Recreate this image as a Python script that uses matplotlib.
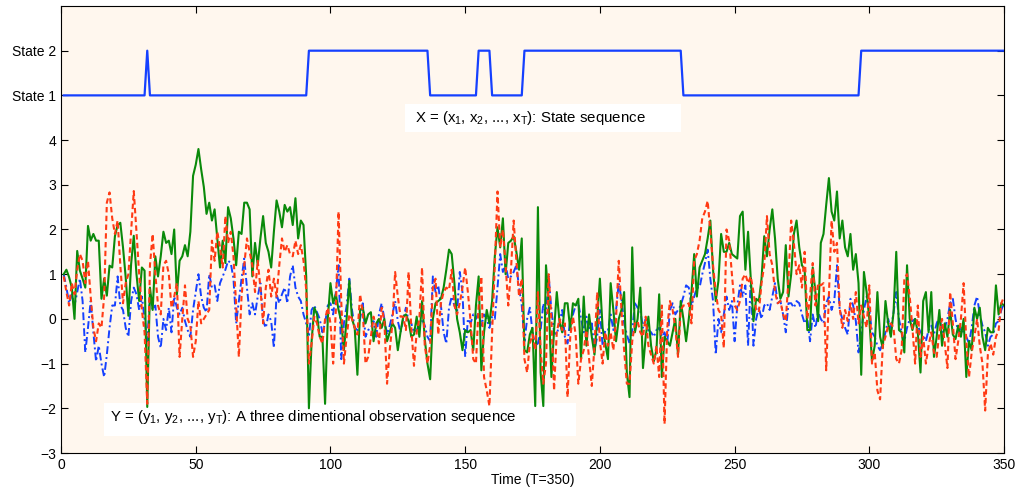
import numpy as np
import matplotlib
matplotlib.use('Agg')
import matplotlib.pyplot as plt
from matplotlib.patches import Rectangle

plt.rcParams['font.family'] = ['Liberation Sans', 'DejaVu Sans']
plt.rcParams['mathtext.default'] = 'regular'

# Hidden state sequence: state value and the time step where each run begins
state_starts = [1, 32, 33, 92, 137, 155, 160, 172, 231, 297]
state_values = [1, 2, 1, 2, 1, 2, 1, 2, 1, 2]
T = 350

# Three-dimensional observations y_t (one list per dimension)
obs_blue = [
    1.0, 0.7, 0.35, 0.55, 0.3, 0.6, 0.9, 0.4, -0.75, -0.2,
    0.4, -0.3, -0.95, -0.6, -1.0, -1.3, -0.8, -0.2, 0.3, 0.3,
    0.95, 0.3, 0.2, -0.2, -0.4, 0.4, 0.7, 0.55, 0.2, 0.5,
    0.0, -0.5, 0.5, 0.2, 0.3, -0.4, -0.65, 0.0, -0.25, 0.25,
    -0.3, 0.5, 0.25, 0.1, 0.25, -0.05, -0.25, -0.4, 0.2, 0.6,
    1.0, 0.5, 0.25, 0.15, 1.0, 0.7, 0.75, 0.4, 0.8, 0.95,
    1.1, 1.3, 1.25, 0.9, -0.1, 0.4, 0.9, 1.35, 0.7, 0.1,
    0.35, 0.1, 0.5, 0.8, -0.05, -0.2, 0.1, -0.05, -0.65, 0.55,
    0.35, 0.55, 0.7, 0.35, 0.95, 1.2, 0.7, 0.5, 0.4, 0.1,
    -0.1, -0.4, 0.2, 0.3, 0.15, 0.0, -0.3, -0.1, 0.3, 0.35,
    0.1, 0.6, 1.2, -0.9, -0.1, 0.3, 0.9, 0.2, -0.2, -0.25,
    0.0, 0.35, -0.4, -0.25, -0.2, -0.05, -0.4, 0.1, 0.35, 0.0,
    -0.35, -0.15, 0.1, 0.4, -0.05, -0.3, 0.0, 0.25, -0.05, -0.1,
    -0.3, -0.25, -0.1, 0.0, -0.15, -0.4, -0.5, 0.95, 0.6, 0.75,
    0.3, -0.3, -0.55, 0.25, 0.5, 0.3, 0.15, 1.05, 0.6, -0.85,
    0.0, -0.1, 0.1, 0.0, 0.15, -0.15, 0.1, 0.0, -0.2, 0.05,
    0.0, 0.7, 1.45, 1.05, 1.2, 0.9, 0.95, 1.05, 1.2, 0.7,
    0.3, -0.5, 0.0, 0.25, -0.3, -0.6, -0.55, -0.25, 0.35, 0.1,
    0.95, 0.2, -0.3, -0.35, -0.1, 0.2, -0.4, -0.55, 0.0, 0.1,
    0.3, 0.35, 0.0, -0.3, 0.05, -0.25, -0.1, -0.7, -0.4, 0.2,
    -0.6, -0.25, -0.25, 0.1, -0.25, 0.2, 0.8, 0.45, -0.1, -0.35,
    -0.55, -0.25, 0.35, 0.25, 0.2, -0.2, 0.0, -0.25, -0.3, -0.4,
    -0.25, -0.2, -0.4, -0.3, -0.55, 0.2, 0.35, 0.1, 0.2, 0.3,
    0.5, 0.75, 0.7, 0.3, 0.5, 0.7, 0.7, 1.0, 1.25, 1.55,
    0.9, 0.4, -0.8, 0.0, -0.3, 0.1, 0.5, 0.2, 0.4, -0.5,
    0.3, 0.75, 0.5, 0.75, -0.6, 0.9, -0.6, 0.0, 0.25, 0.0,
    0.3, 0.35, 0.2, 0.5, 0.8, 0.35, 0.4, 0.1, -0.3, 0.35,
    0.35, 0.25, 0.4, 0.35, 0.1, -0.1, 0.0, -0.5, 0.1, -0.2,
    0.15, 0.0, -0.1, 0.35, 0.5, 0.2, 0.4, 1.2, 0.2, 0.0,
    -0.2, -0.35, 0.45, 0.3, -0.05, -0.75, -0.3, 0.2, 0.5, 0.2,
    -0.3, -0.4, -0.6, -0.7, -0.55, -0.3, 0.0, -0.25, 0.15, 0.6,
    0.0, -0.3, -0.5, -0.2, 0.0, -0.05, 0.0, -0.15, -0.3, -0.35,
    -0.5, -0.25, -0.15, -0.35, -0.1, 0.05, -0.3, -0.2, 0.0, 0.35,
    0.45, 0.0, -0.3, -0.2, -0.3, -0.4, -0.55, -0.2, 0.3, 0.5,
    0.1, -0.15, -0.3, -0.6, -0.4, -0.35, -0.1, -0.05, 0.2, 0.35,
]

obs_green = [
    1.0, 1.1, 0.93, 0.7, 0.0, 1.52, 1.08, 0.9, 0.7, 2.08,
    1.75, 1.9, 1.75, 1.75, 0.45, 0.9, 0.52, 1.19, 1.15, 1.85,
    2.1, 2.15, 1.6, 0.93, 0.07, 1.22, 1.86, 1.0, 0.4, 1.15,
    1.08, -1.97, 0.7, 0.2, 1.4, 0.95, 1.4, 1.95, 1.7, 1.75,
    1.45, 2.0, 0.55, 1.3, 1.4, 1.65, 1.4, 1.95, 3.2, 3.45,
    3.8, 3.35, 2.95, 2.35, 2.6, 2.2, 2.45, 1.8, 1.15, 1.75,
    1.25, 2.5, 2.25, 1.8, 1.2, 1.95, 1.9, 2.6, 2.6, 2.45,
    0.95, 1.7, 1.2, 1.8, 2.3, 1.7, 1.5, 1.15, 1.95, 2.65,
    2.4, 2.05, 2.55, 2.4, 2.5, 2.1, 2.7, 1.8, 2.2, 2.1,
    0.95, -2.0, -0.5, 0.25, 0.1, -0.4, -0.4, -1.9, 0.0, 0.8,
    0.35, 0.55, 0.2, -0.05, -0.7, 0.0, 0.85, 0.0, -0.2, -1.25,
    0.2, 0.25, -0.1, 0.1, 0.15, -0.5, -0.1, 0.0, -0.2, 0.0,
    -0.5, -0.3, -0.1, -0.2, -0.7, -0.3, 0.05, 0.1, -0.05, -0.4,
    -0.35, 0.05, -0.4, 0.4, -0.45, -1.0, -1.35, 0.0, 0.35, 0.4,
    0.45, 0.7, 1.1, 1.55, 1.45, 0.8, 0.0, -0.3, -0.7, -0.25,
    -0.3, -0.25, -0.7, 0.3, 0.95, -1.15, -0.3, 0.2, -0.1, 0.4,
    1.4, 2.05, 1.6, 2.25, 1.0, 1.7, 1.75, 1.85, 1.5, 1.1,
    1.8, -0.7, -0.75, -0.35, -0.2, -1.95, 2.5, -1.2, -1.95, 1.2,
    0.4, -1.3, -0.25, 0.6, -0.05, -0.3, 0.35, 0.35, -0.25, 0.35,
    0.3, 0.45, -0.9, 0.5, -0.6, 0.1, -0.4, -0.8, 0.0, 0.9,
    -0.2, -0.55, -0.9, 0.8, 0.2, -0.5, 0.0, 0.2, 0.6, -1.2,
    -1.75, 1.6, -0.3, 0.0, 0.7, -1.1, -0.4, 0.05, -0.6, -0.95,
    -0.7, 0.55, -1.3, -0.4, -0.5, -0.6, -0.3, 0.0, -0.8, 0.4,
    0.0, -0.5, 0.0, 0.6, 1.45, 0.5, 1.15, 1.3, 1.45, 1.8,
    2.2, 1.1, 0.4, 0.85, 1.9, 1.5, 1.5, 1.7, 1.45, 1.4,
    1.35, 2.3, 2.4, 1.1, 1.95, 0.9, -0.05, 0.45, 0.4, 0.9,
    1.85, 1.4, 2.0, 2.45, 1.8, 0.9, 0.45, 0.6, 1.65, 0.5,
    1.0, 1.9, 2.2, 1.6, 1.2, 1.1, -0.25, -0.25, 1.15, 0.6,
    -0.05, 1.7, 1.9, 2.55, 3.15, 2.4, 2.2, 2.85, 1.8, 2.2,
    1.6, 1.4, 1.9, 1.1, 1.45, 0.8, -1.25, 1.05, 0.6, 0.0,
    -0.95, -0.6, 0.6, -0.4, -0.65, 0.4, -0.1, -0.4, 0.15, 1.5,
    -0.25, -0.3, -0.75, 1.2, 0.0, -0.25, 0.0, -0.3, -1.2, 0.4,
    0.6, -0.3, 0.6, -0.85, -0.4, 0.2, -0.6, -0.1, -0.4, 0.2,
    -0.35, -0.45, -0.15, -0.4, 0.0, -1.3, -0.5, -0.7, 0.25, 0.0,
    0.25, -0.4, -0.7, -0.2, -0.3, -0.3, 0.75, 0.1, 0.35, 0.3,
]

obs_red = [
    0.95, 0.6, 0.3, 0.8, 0.55, 1.1, 1.45, 1.3, 0.8, 1.3,
    0.5, -0.2, -0.5, -0.1, -0.2, 0.5, 2.6, 2.83, 2.25, 1.9,
    2.2, 1.2, 0.35, 0.8, 1.0, 1.95, 2.86, 1.95, 1.0, 0.2,
    -0.3, -1.9, 1.2, 1.9, 1.0, 0.3, 0.1, 1.2, 1.3, 1.0,
    0.25, 0.5, 0.8, -0.85, 0.0, 0.75, 0.0, -0.15, -0.85, -0.5,
    0.4, -0.1, 0.0, 0.1, 0.2, 1.75, 1.3, 1.95, 1.6, 1.15,
    2.3, 1.7, 1.95, 1.4, 0.3, -0.85, 0.5, 1.2, 1.8, 1.5,
    1.2, 0.6, 1.3, 0.7, -0.1, 0.7, 1.1, 0.5, 0.9, 0.5,
    1.2, 1.8, 1.5, 1.65, 1.45, 1.4, 1.75, 1.45, 1.65, 1.3,
    0.65, -1.0, -0.55, 0.05, -0.1, -0.4, -0.55, 0.0, 0.25, -0.1,
    -1.0, 0.2, 2.4, 0.4, -1.0, -0.4, 0.1, 0.0, -0.2, -0.35,
    0.55, 0.15, -1.0, -0.85, -0.4, 0.05, -0.2, -0.55, 0.25, -0.05,
    -1.45, -0.7, -0.1, 1.05, 0.5, 0.05, 0.05, -0.25, 1.05, -0.2,
    -1.05, -0.3, 0.0, 1.15, -0.6, -1.0, -0.6, 0.7, 0.9, -0.35,
    0.35, 0.6, 0.7, 0.65, 1.1, 0.3, 0.1, 0.35, 0.7, 1.15,
    0.6, -0.05, -0.9, -1.0, 0.3, 0.95, -1.3, -1.6, -1.95, -0.3,
    1.2, 2.85, 1.6, 2.0, 1.2, 0.3, 1.1, 2.2, 1.3, 0.5,
    0.9, -0.9, -1.2, -0.55, -0.35, -0.7, 0.6, -0.7, -1.45, -1.0,
    1.0, 0.0, -1.6, -0.3, 0.0, -0.25, -0.1, -1.75, -0.4, 0.05,
    -0.35, -1.45, -0.9, -0.7, -0.25, -0.9, -1.5, -0.6, 0.6, -0.5,
    -1.0, -0.3, -0.6, -0.3, -0.7, 0.0, 1.3, 0.2, -0.7, -1.45,
    -1.45, -0.5, -0.1, -0.05, -0.3, -0.4, 0.05, -0.6, -0.8, -1.0,
    -0.6, -1.3, 0.3, -2.35, -0.2, 0.4, 0.2, -0.2, -0.85, 0.2,
    0.3, 0.3, 0.35, -0.1, 1.3, 1.45, 1.75, 2.25, 2.4, 2.64,
    1.95, 1.2, 0.6, 0.2, 0.1, -0.65, 2.0, 1.75, 1.0, 0.3,
    0.2, 0.4, 0.9, 1.0, 0.8, 0.95, 0.6, 0.2, 0.15, 0.8,
    1.2, 2.3, 1.45, 1.2, 0.6, 0.35, 0.4, 0.1, -0.05, 0.9,
    2.2, 1.7, 1.0, 1.2, 0.7, 1.5, 0.0, 0.5, 1.25, 0.3,
    0.8, 0.75, 0.8, -1.15, 0.5, 2.2, 1.5, 1.7, 0.25, -0.2,
    0.2, -0.05, 0.35, 0.0, 0.6, -0.1, 0.3, 0.05, -0.2, 0.75,
    -1.0, -0.75, -1.6, -1.8, -0.6, -0.4, -0.15, -0.1, -0.2, -0.9,
    -1.0, -0.7, 0.9, 1.0, 0.5, -0.2, -1.0, 0.3, -0.85, -0.4,
    -1.0, -0.6, -0.3, -0.75, -0.85, -0.3, 0.0, -0.55, -1.1, 0.6,
    -0.1, -0.9, -0.5, 0.0, 0.8, -0.5, -1.3, -0.75, -0.4, 0.0,
    -0.6, -1.0, -2.05, -0.8, -0.55, -0.8, -0.4, -0.25, 0.35, 0.5,
]

ytick_vals = [-3, -2, -1, 0, 1, 2, 3, 4, 5, 6]
ytick_labels = ['\u22123', '\u22122', '\u22121', '0', '1', '2', '3', '4', 'State 1', 'State 2']

t = np.arange(1, T + 1)
run_lengths = np.diff(state_starts + [T + 1])
states = np.repeat(state_values, run_lengths)

fig = plt.figure(figsize=(10.19, 4.9), dpi=100)
ax = fig.add_axes([0.0599, 0.0755, 0.9254, 0.9123])
ax.set_facecolor('#fff7ee')

# white label panels sit under the curves' annotations
ax.add_patch(Rectangle((127.8, 4.18), 102.4, 0.62, facecolor='white', edgecolor='none', zorder=1))
ax.add_patch(Rectangle((16.0, -2.62), 175.0, 0.73, facecolor='white', edgecolor='none', zorder=1))

# states drawn 4 units above the observations
ax.plot(t, states + 4, color='#1540ff', lw=1.6, zorder=3)

ax.plot(t, obs_blue, color='#1540ff', lw=1.4, linestyle=(0, (4, 1.6, 1, 1.6)), zorder=2)
ax.plot(t, obs_green, color='#0a8a0a', lw=1.5, zorder=2)
ax.plot(t, obs_red, color='#ff3a14', lw=1.5, linestyle=(0, (2.6, 1.6)), zorder=2)

ax.set_xlim(0, 350)
ax.set_ylim(-3, 7)
ax.set_xticks(np.arange(0, 351, 50))
ax.set_yticks(ytick_vals)
ax.set_yticklabels(ytick_labels)
ax.tick_params(direction='in', top=True, right=True, length=5, labelsize=10)
ax.set_xlabel('Time (T=350)', fontsize=10, labelpad=1)

ax.text(131.2, 4.5, r'X = (x$_1$, x$_2$, ..., x$_T$): State sequence', fontsize=10.8,
        va='center', ha='left', zorder=4)
ax.text(18.2, -2.2, r'Y = (y$_1$, y$_2$, ..., y$_T$): A three dimentional observation sequence',
        fontsize=10.8, va='center', ha='left', zorder=4)

fig.savefig('out.png', dpi=100)
